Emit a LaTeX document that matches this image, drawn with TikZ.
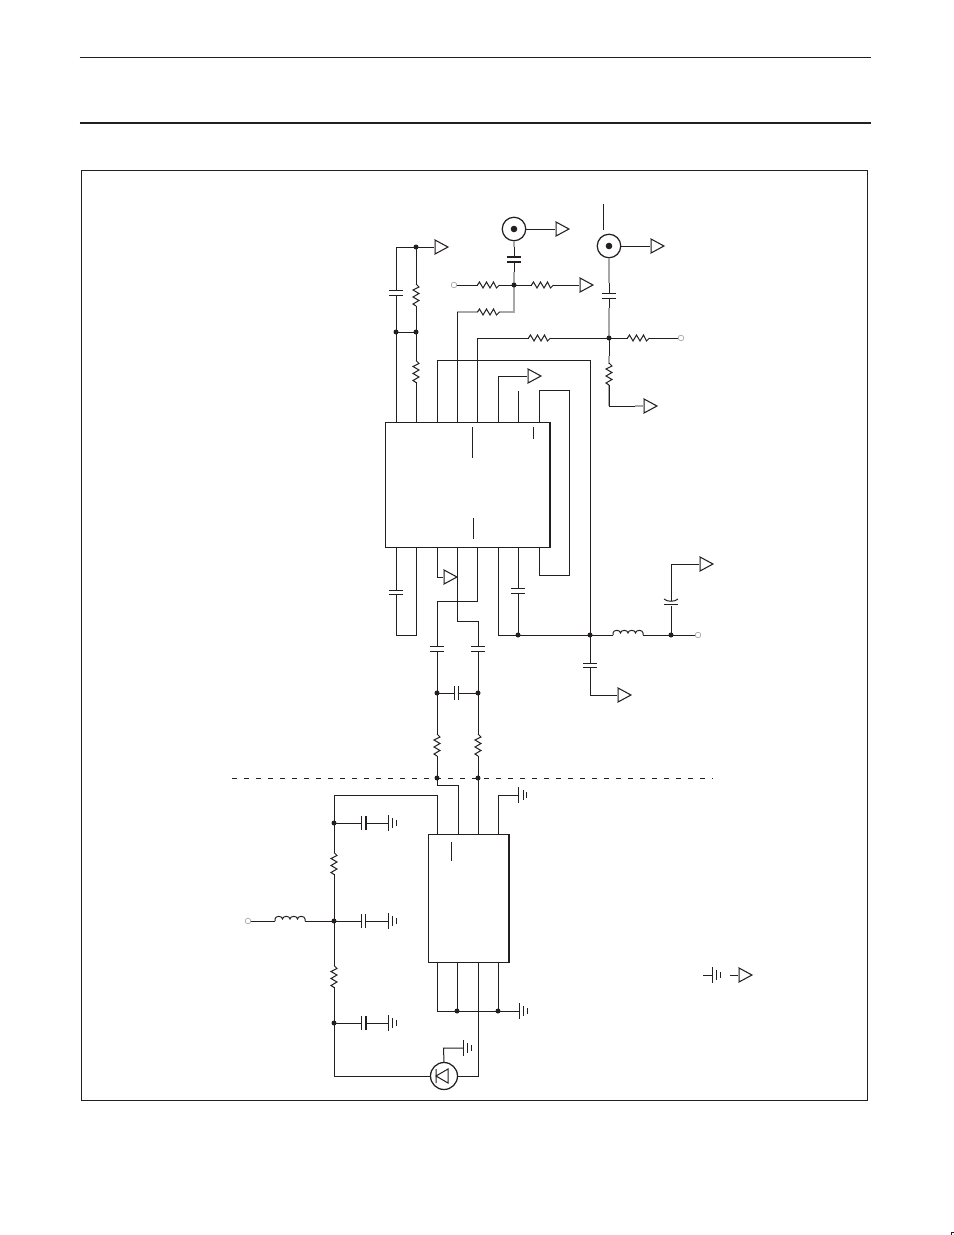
\documentclass[tikz,border=0pt]{standalone}
\definecolor{ink}{HTML}{231F20}
\definecolor{pale}{HTML}{A8A8A8}
\tikzset{
  wire/.style={draw=ink,line width=1bp,line cap=butt,line join=miter},
  palewire/.style={draw=pale,line width=1.1bp},
  jn/.style={circle,fill=ink,inner sep=0pt,minimum size=5bp},
  bigjn/.style={circle,fill=ink,inner sep=0pt,minimum size=6.6bp},
  term/.style={circle,draw=pale,fill=white,line width=0.7bp,inner sep=0pt,minimum size=5.6bp},
  coax/.style={circle,draw=ink,line width=1.25bp,fill=white,inner sep=0pt,minimum size=23.5bp},
  chip/.style={rectangle,draw=ink,line width=1bp,fill=white,inner sep=0pt},
  resv/.pic={\draw[white,line width=2bp] (-10.5,0)--(10.5,0);
    \draw[wire] (-11,0)--(-9,-3)--(-5.5,3)--(-2,-3)--(1.5,3)--(5,-3)--(8,3)--(11,0);},
  coil/.pic={\draw[white,line width=2bp] (-15,0)--(15,0);
    \draw[wire] (-15,0)--(-15,-2) .. controls (-15,-5.5) and (-7.5,-5.5) .. (-7.5,-2)
      .. controls (-7.5,-5.5) and (0,-5.5) .. (0,-2)
      .. controls (0,-5.5) and (7.5,-5.5) .. (7.5,-2)
      .. controls (7.5,-5.5) and (15,-5.5) .. (15,-2)--(15,0);},
  capa/.pic={\draw[white,line width=2bp] (0,-2.4)--(0,2.4);
    \draw[wire] (-7,-2.4)--(7,-2.4) (-7,2.4)--(7,2.4);},
  capb/.pic={\draw[white,line width=2bp] (0,-2.4)--(0,2.4);
    \draw[wire] (-7,-2.4)--(7,-2.4);
    \draw[wire,line width=2bp] (-7,2.4)--(7,2.4);},
  capc/.pic={\draw[white,line width=2bp] (0,-2.4)--(0,2.4);
    \draw[wire,line width=1.7bp] (-7,-2.4)--(7,-2.4) (-7,2.4)--(7,2.4);},
  vcap/.pic={\draw[white,line width=2bp] (0,-3)--(0,2.4);
    \draw[wire] (-7,-5) .. controls (-4,-2) and (4,-2) .. (7,-5);
    \draw[wire] (-7,0)--(7,0);},
  gnd/.pic={\draw[wire] (0,-8)--(0,8) (4.5,-5)--(4.5,5) (8,-3)--(8,3);},
  gndb/.pic={\draw[wire,line width=1.9bp] (0,-8)--(0,8);\draw[wire] (4.5,-5)--(4.5,5) (8,-3)--(8,3);},
  tri/.pic={\draw[draw=ink,fill=white,line width=1.05bp,line join=miter] (0,-7)--(13,0)--(0,7)--cycle;\draw[pale,line width=1bp] (-0.6,-7)--(-0.6,7);},
}
\begin{document}
\begin{tikzpicture}[x=1bp,y=-1bp]
\useasboundingbox (0,0) rectangle (954,1235);
% page rules and frame
\coordinate (ruleAl) at (79.5,57); \coordinate (ruleAr) at (870.5,57);
\coordinate (ruleBl) at (79.5,123); \coordinate (ruleBr) at (870.5,123);
\draw[draw=ink,line width=0.7bp] (ruleAl)--(ruleAr);
\draw[draw=ink,line width=1.4bp] (ruleBl)--(ruleBr);
\node[rectangle,draw=ink,line width=0.7bp,inner sep=0pt,minimum width=786bp,minimum height=930bp] (frame) at (474,635) {};
\coordinate (cropA) at (951,1235); \coordinate (cropB) at (951,1232); \coordinate (cropC) at (953.5,1232);
\draw[draw=ink,line width=0.7bp] (cropA)--(cropB)--(cropC);

% junctions and ends
\foreach \n/\x/\y in {a/416/247,b/396/332,c/416/332,d/514/285,e/609/338,f/518/635,g/590/635,h/671/635,
  i/437/693,j/478/693,k/437/778,l/478/778,m/334/823,n/334/921,o/334/1023,p/457/1011,q/498/1011}
  {\coordinate (\n) at (\x,\y);}
% ICs
\node[chip,minimum width=164.5bp,minimum height=125bp] (ica) at (467.75,484.5) {};
\node[chip,minimum width=81bp,minimum height=128bp] (icb) at (468.5,898) {};
\node[coax] (coxa) at (514,229) {};
\node[coax] (coxb) at (609,246) {};
\node[circle,draw=ink,fill=white,line width=1.25bp,inner sep=0pt,minimum size=27bp] (dio) at (444,1076) {};

% wires (top half)
\coordinate (aL) at (396,247);\coordinate (p1) at (396,422);\coordinate (p2) at (416,422);
\coordinate (t1) at (435,247);
\draw[wire] (p1)--(aL)--(t1) (a)--(p2) (b)--(c);
\coordinate (t2) at (556,229); \draw[wire] (coxa.east)--(t2);
\coordinate (t3) at (651,246); \draw[wire] (coxb.east)--(t3);
\coordinate (barT) at (603,204);\coordinate (barB) at (603,230); \draw[wire] (barT)--(barB);
\coordinate (s1) at (514,247);\coordinate (s2) at (514,272);\coordinate (dn) at (514,312);
\coordinate (w1) at (499,312);\coordinate (w2) at (478,312);\coordinate (w3) at (457,312);\coordinate (p4) at (457,422);
\draw[palewire] (coxa.south)--(s1) (s2)--(d)--(dn)--(w1) (w2)--(w3);
\draw[wire] (s1)--(s2) (w3)--(p4);
\coordinate (tmA) at (454,285);\coordinate (t4) at (580,285);
\draw[wire] (tmA)--(t4);
\coordinate (u1) at (609,283);\coordinate (u2) at (609,308);\coordinate (u3) at (609,356);\coordinate (u4) at (609,385);\coordinate (u5) at (609,406);\coordinate (u6) at (635,406);\coordinate (t5) at (644,406);
\draw[palewire] (coxb.south)--(u1) (u2)--(e) (u3)--(u4)--(u5) (u6)--(t5);
\draw[wire] (u1)--(u2) (e)--(u3) (u4)--(u5)--(u6);
\coordinate (tmB) at (681,338);\coordinate (v1) at (477,338);\coordinate (p5) at (477,422);
\draw[wire] (tmB)--(v1)--(p5);
\coordinate (p3) at (437,422);\coordinate (x1) at (437,360);\coordinate (x2) at (590,360);
\draw[wire] (p3)--(x1)--(x2)--(g);
\coordinate (p6) at (498,422);\coordinate (y1) at (498,376);\coordinate (t6) at (528,376);
\draw[wire] (p6)--(y1)--(t6);
\coordinate (p7t) at (518,391);\coordinate (p7) at (518,422); \draw[wire] (p7t)--(p7);
\coordinate (p8) at (539,422);\coordinate (z1) at (539,390);\coordinate (z2) at (569.5,390);\coordinate (z3) at (569.5,575);\coordinate (z4) at (539,575);\coordinate (q8) at (539,547);
\draw[wire] (p8)--(z1)--(z2)--(z3)--(z4)--(q8);
% marks inside first IC
\coordinate (mk1) at (472,427);\coordinate (mk2) at (472,458);\coordinate (mk3) at (533,427);\coordinate (mk4) at (533,439);\coordinate (mk5) at (473,518);\coordinate (mk6) at (473,539);
\draw[wire] (mk1)--(mk2) (mk3)--(mk4) (mk5)--(mk6);
\coordinate (edgeT) at (550.4,422);\coordinate (edgeB) at (550.4,547);
\draw[wire,line width=1.9bp] (edgeT)--(edgeB);

% below first IC
\coordinate (q1) at (396,547);\coordinate (q2) at (416,547);\coordinate (q1b) at (396,635);\coordinate (q2b) at (416,635);
\draw[wire] (q1)--(q1b)--(q2b)--(q2);
\coordinate (q3) at (437,547);\coordinate (q3b) at (437,577);\coordinate (t7) at (444,577);
\draw[wire] (q3)--(q3b)--(t7);
\coordinate (q4) at (457,547);\coordinate (q4b) at (457,621);\coordinate (q4c) at (478,621);
\draw[wire] (q4)--(q4b)--(q4c)--(l);
\coordinate (q5) at (477,547);\coordinate (q5b) at (477,601);\coordinate (q5c) at (437,601);
\draw[wire] (q5)--(q5b)--(q5c)--(k);
\coordinate (q6) at (498,547);\coordinate (q6b) at (498,635);\coordinate (tmC) at (698,635);
\draw[wire] (q6)--(q6b)--(tmC);
\coordinate (q7) at (518,547); \draw[wire] (q7)--(f);
\coordinate (g2) at (590,695);\coordinate (t8) at (618,695);
\draw[wire] (g)--(g2)--(t8);
\coordinate (h2) at (671,564);\coordinate (t9) at (700,564);
\draw[wire] (h)--(h2)--(t9);
\draw[wire] (i)--(j);
% dashed boundary
\coordinate (dashL) at (232,778);\coordinate (dashR) at (713,778);
\draw[draw=ink,line width=0.8bp,dash pattern=on 4.5bp off 7.5bp] (dashL)--(dashR);

% lower section
\coordinate (r1) at (437,785);\coordinate (r2) at (458,785);\coordinate (r3) at (458,834);
\draw[wire] (k)--(r1)--(r2)--(r3);
\coordinate (r4) at (478,834); \draw[wire] (l)--(r4);
\coordinate (r5) at (498,834);\coordinate (r6) at (498,795);\coordinate (g1) at (518.5,795);
\draw[wire] (r5)--(r6)--(g1);
\coordinate (r7) at (437,834);\coordinate (r8) at (437,795);\coordinate (r9) at (334,795);\coordinate (r10) at (334,1076);
\draw[wire] (r7)--(r8)--(r9)--(r10)--(dio.west);
\coordinate (gA) at (388,823);\coordinate (gB) at (388,921);\coordinate (gC) at (388,1023);
\draw[wire] (m)--(gA) (n)--(gB) (o)--(gC);
\coordinate (tmD) at (248,921); \draw[wire] (tmD)--(n);
\coordinate (b1) at (437,962);\coordinate (b1b) at (437,1011);\coordinate (gD) at (519,1011);
\draw[wire] (b1)--(b1b)--(gD);
\coordinate (b2) at (457,962); \draw[wire] (b2)--(p);
\coordinate (b4) at (498,962); \draw[wire] (b4)--(q);
\coordinate (b3) at (478,962);\coordinate (b3b) at (478,1076);
\draw[wire] (b3)--(b3b)--(dio.east);
\coordinate (dg1) at (443.5,1048);\coordinate (gE) at (463,1048);
\draw[wire] (dio.north)--(dg1)--(gE);
\coordinate (mk7) at (451,842);\coordinate (mk8) at (451,861);\draw[wire] (mk7)--(mk8);
\coordinate (edgeU) at (509.4,834);\coordinate (edgeV) at (509.4,962);
\draw[wire,line width=1.9bp] (edgeU)--(edgeV);
% diode symbol
\coordinate (dA) at (436,1076);\coordinate (dB) at (448,1069);\coordinate (dC) at (448,1083);\coordinate (dD) at (436,1069);\coordinate (dE) at (436,1083);
\draw[draw=ink,line width=1bp] (dA)--(dB)--(dC)--cycle (dD)--(dE);

% legend
\coordinate (lgA) at (703,975);\coordinate (gF) at (712,975);\coordinate (lgB) at (730,975);\coordinate (t10) at (739,975);
\draw[wire] (lgA)--(gF) (lgB)--(t10);

% parts
\pic[rotate=90] at (416,295) {resv};
\pic[rotate=90] at (416,371.5) {resv};
\pic at (488.5,285) {resv};
\pic at (542.5,285) {resv};
\pic at (488.5,312) {resv};
\pic at (539.5,338) {resv};
\pic at (638.5,338) {resv};
\pic[rotate=90] at (609,374) {resv};
\pic[rotate=90] at (437,745) {resv};
\pic[rotate=90] at (478,745) {resv};
\pic[rotate=90] at (334,863.5) {resv};
\pic[rotate=90] at (334,976.5) {resv};
\pic at (396,293) {capa};
\pic at (514,259.5) {capc};
\pic at (609,296) {capa};
\pic at (396,592.5) {capa};
\pic at (518,591) {capa};
\pic at (437,649) {capa};
\pic at (478,649) {capa};
\pic at (590,665.5) {capa};
\pic at (671,604) {vcap};
\pic[rotate=90] at (456.5,693) {capa};
\pic[rotate=90] at (363.5,823) {capb};
\pic[rotate=90] at (363.5,921) {capa};
\pic[rotate=90] at (363.5,1023) {capb};
\pic at (628,635) {coil};
\pic at (290,921) {coil};
\pic at (g1) {gndb};
\pic at (gA) {gnd};
\pic at (gB) {gnd};
\pic at (gC) {gnd};
\pic at (gD) {gnd};
\pic at (gE) {gnd};
\pic at (gF) {gnd};
\foreach \t in {t1,t2,t3,t4,t5,t6,t7,t8,t9,t10} {\pic at (\t) {tri};}
% dots and terminals
\foreach \n in {a,b,c,d,e,f,g,h,i,j,k,l,m,n,o,p,q} {\node[jn] (dot\n) at (\n) {};}
\node[bigjn] (coxaDot) at (coxa.center) {};
\node[bigjn] (coxbDot) at (coxb.center) {};
\node[term] (termA) at (tmA) {};
\node[term] (termB) at (tmB) {};
\node[term] (termC) at (tmC) {};
\node[term] (termD) at (tmD) {};
\end{tikzpicture}
\end{document}
